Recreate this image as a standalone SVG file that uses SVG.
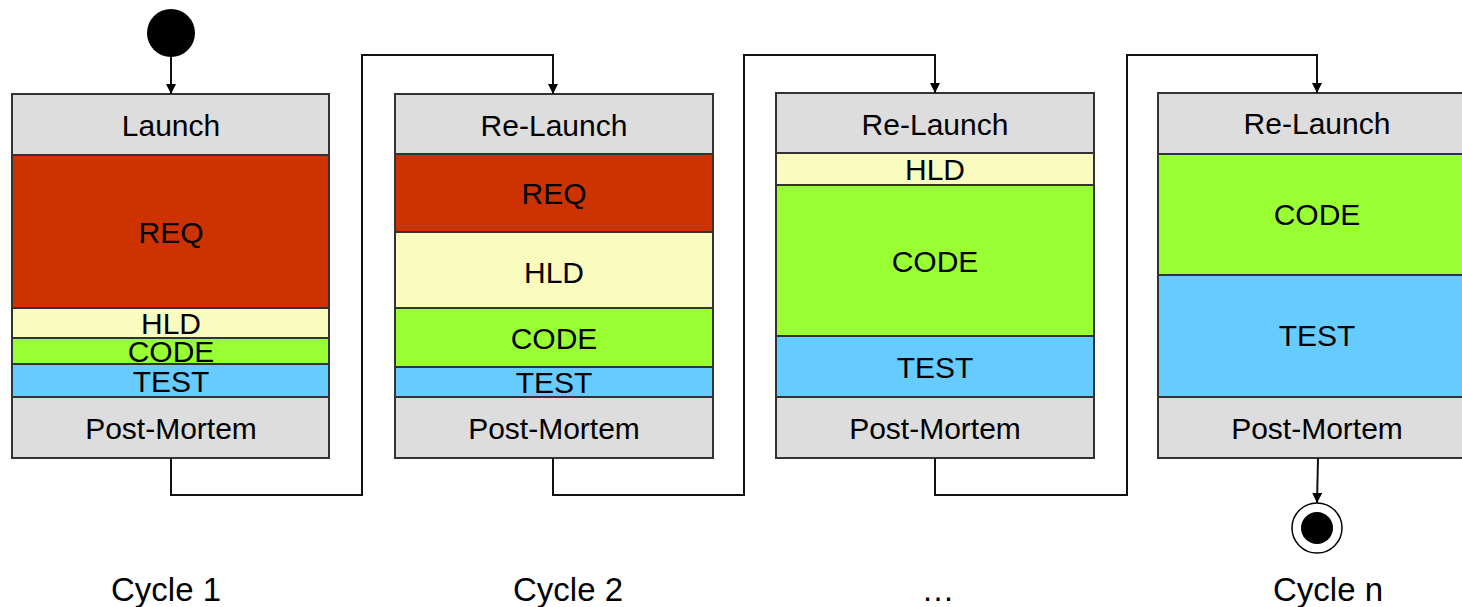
<svg xmlns="http://www.w3.org/2000/svg" width="1462" height="607" viewBox="0 0 1462 607">
  <style>
    .box { stroke: #333333; stroke-width: 2; }
    .gray { fill: #DDDDDD; }
    .req { fill: #CC3300; }
    .hld { fill: #FAFBBE; }
    .code { fill: #99FF33; }
    .test { fill: #66CCFF; }
    .lbl { font-family: "Liberation Sans", Arial, sans-serif; font-size: 30px; fill: #000; text-anchor: middle; dominant-baseline: central; }
    .cap { font-family: "Liberation Sans", Arial, sans-serif; font-size: 33px; fill: #000; text-anchor: middle; }
    .wire { fill: none; stroke: #111; stroke-width: 2; }
  </style>
  <defs>
    <marker id="arrow" viewBox="0 0 10 10" refX="10" refY="5" markerWidth="10" markerHeight="10" markerUnits="userSpaceOnUse" orient="auto">
      <path d="M0,0 L10,5 L0,10 z" fill="#000"/>
    </marker>
  </defs>

  <!-- start state -->
  <g id="start">
    <circle cx="171" cy="33" r="24" fill="#000"/>
  </g>

  <!-- cycle 1 -->
  <g id="cycle1">
    <rect class="box gray" x="12" y="94" width="317" height="61"/>
    <text class="lbl" x="171" y="125">Launch</text>
    <rect class="box req" x="12" y="155" width="317" height="153"/>
    <text class="lbl" x="171" y="232">REQ</text>
    <rect class="box hld" x="12" y="308" width="317" height="30"/>
    <text class="lbl" x="171" y="323">HLD</text>
    <rect class="box code" x="12" y="338" width="317" height="26"/>
    <text class="lbl" x="171" y="351">CODE</text>
    <rect class="box test" x="12" y="364" width="317" height="33"/>
    <text class="lbl" x="171" y="381">TEST</text>
    <rect class="box gray" x="12" y="397" width="317" height="61"/>
    <text class="lbl" x="171" y="428">Post-Mortem</text>
  </g>

  <!-- cycle 2 -->
  <g id="cycle2">
    <rect class="box gray" x="395" y="94" width="318" height="60"/>
    <text class="lbl" x="554" y="125">Re-Launch</text>
    <rect class="box req" x="395" y="154" width="318" height="78"/>
    <text class="lbl" x="554" y="193">REQ</text>
    <rect class="box hld" x="395" y="232" width="318" height="76"/>
    <text class="lbl" x="554" y="272">HLD</text>
    <rect class="box code" x="395" y="308" width="318" height="59"/>
    <text class="lbl" x="554" y="338">CODE</text>
    <rect class="box test" x="395" y="367" width="318" height="30"/>
    <text class="lbl" x="554" y="382">TEST</text>
    <rect class="box gray" x="395" y="397" width="318" height="61"/>
    <text class="lbl" x="554" y="428">Post-Mortem</text>
  </g>

  <!-- cycle 3 -->
  <g id="cycle3">
    <rect class="box gray" x="776" y="93" width="318" height="60"/>
    <text class="lbl" x="935" y="124">Re-Launch</text>
    <rect class="box hld" x="776" y="153" width="318" height="32"/>
    <text class="lbl" x="935" y="169">HLD</text>
    <rect class="box code" x="776" y="185" width="318" height="151"/>
    <text class="lbl" x="935" y="261">CODE</text>
    <rect class="box test" x="776" y="336" width="318" height="61"/>
    <text class="lbl" x="935" y="367">TEST</text>
    <rect class="box gray" x="776" y="397" width="318" height="61"/>
    <text class="lbl" x="935" y="428">Post-Mortem</text>
  </g>

  <!-- cycle n -->
  <g id="cycleN">
    <rect class="box gray" x="1158" y="93" width="318" height="61"/>
    <text class="lbl" x="1317" y="123">Re-Launch</text>
    <rect class="box code" x="1158" y="154" width="318" height="121"/>
    <text class="lbl" x="1317" y="214">CODE</text>
    <rect class="box test" x="1158" y="275" width="318" height="122"/>
    <text class="lbl" x="1317" y="335">TEST</text>
    <rect class="box gray" x="1158" y="397" width="318" height="61"/>
    <text class="lbl" x="1317" y="428">Post-Mortem</text>
  </g>

  <!-- final state -->
  <g id="end">
    <circle cx="1317" cy="528" r="25" fill="#fff" stroke="#000" stroke-width="1.5"/>
    <circle cx="1317" cy="528" r="16" fill="#000"/>
  </g>

  <!-- transitions -->
  <g id="connectors">
    <path class="wire" d="M171,57 L171,94" marker-end="url(#arrow)"/>
    <path class="wire" d="M171,458 L171,495 L362,495 L362,55 L553,55 L553,94" marker-end="url(#arrow)"/>
    <path class="wire" d="M553,458 L553,495 L744,495 L744,55 L935,55 L935,93" marker-end="url(#arrow)"/>
    <path class="wire" d="M935,458 L935,495 L1127,495 L1127,55 L1317,55 L1317,93" marker-end="url(#arrow)"/>
    <path class="wire" d="M1318,458 L1317,503" marker-end="url(#arrow)"/>
  </g>

  <!-- captions -->
  <g id="captions">
    <text class="cap" x="166" y="601">Cycle 1</text>
    <text class="cap" x="568" y="601">Cycle 2</text>
    <text class="cap" x="938" y="601">…</text>
    <text class="cap" x="1328" y="601">Cycle n</text>
  </g>
</svg>
